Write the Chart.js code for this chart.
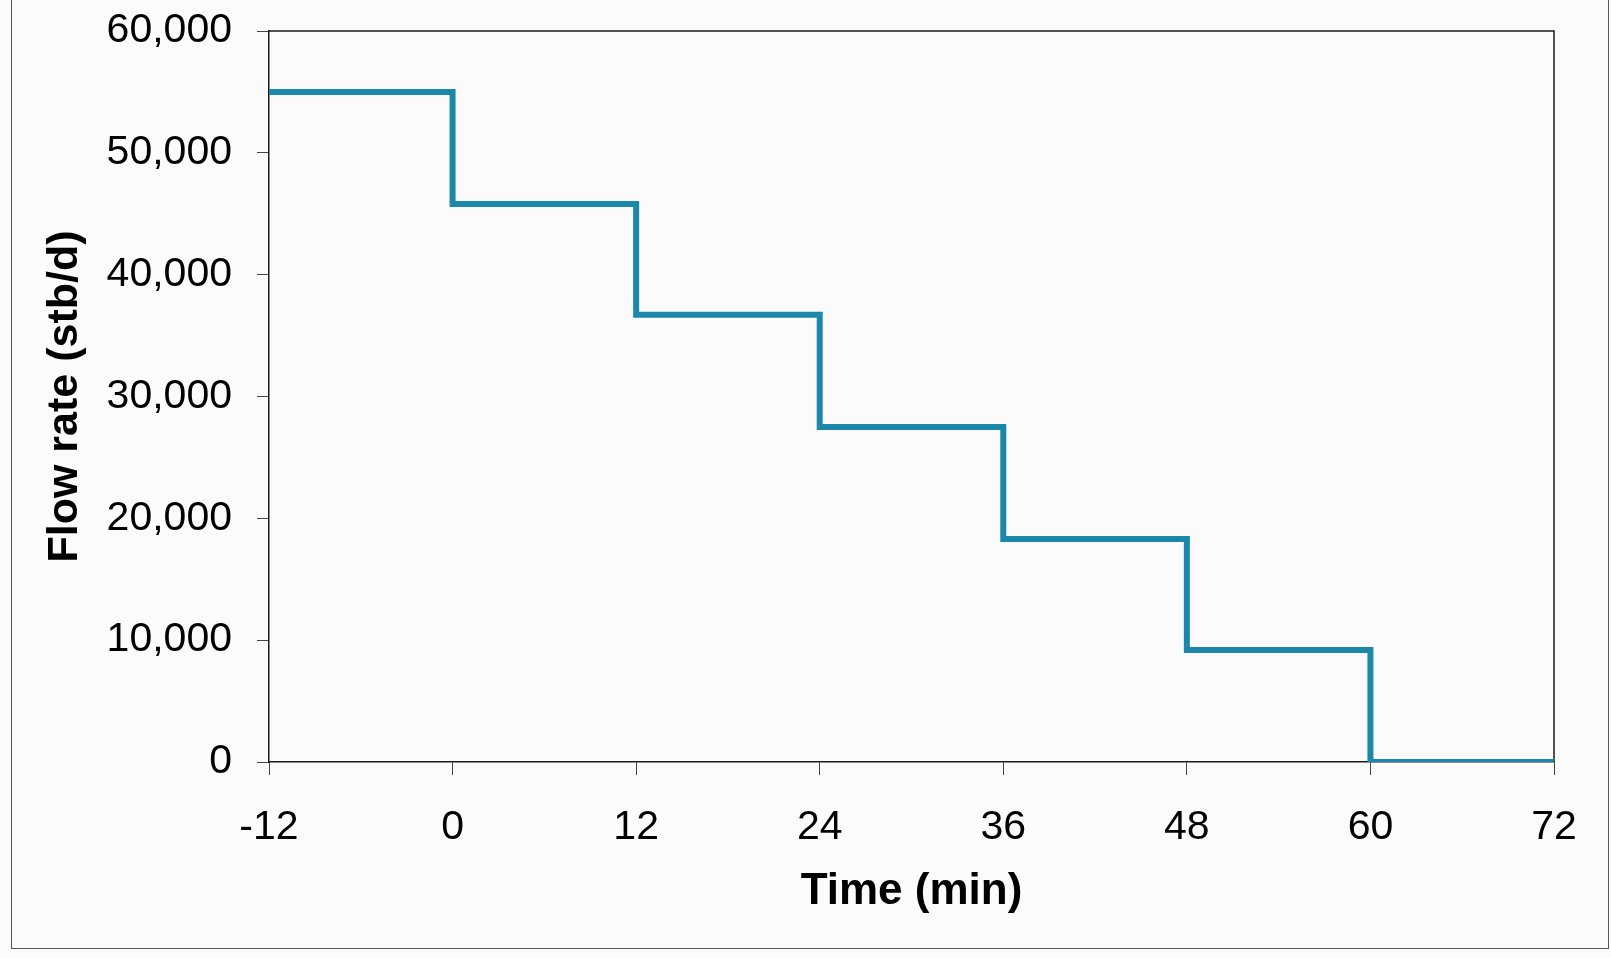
<!DOCTYPE html>
<html>
<head>
<meta charset="utf-8">
<script src="https://cdn.jsdelivr.net/npm/chart.js@4"></script>
<style>
  html, body { margin: 0; padding: 0; background: #fcfbfc; overflow: hidden; }
  #wrap { position: relative; width: 1611px; height: 958px; }
  #frame {
    position: absolute; left: 11px; top: -10px; width: 1598px; height: 959px;
    border: 1.5px solid #555; box-sizing: border-box; pointer-events: none;
  }
</style>
</head>
<body>
<div id="wrap">
  <div id="frame"></div>
  <canvas id="flowChart" width="1611" height="958"></canvas>
</div>
<script>
// time of each rate change (min) and the rate that holds from it (stb/d)
const times = [-12, 0, 12, 24, 36, 48, 60, 72];
const rates = [55000, 45800, 36700, 27500, 18300, 9200, 0, 0];

const xTicks = [-12, 0, 12, 24, 36, 48, 60, 72];
const yTicks = [0, 10000, 20000, 30000, 40000, 50000, 60000];

const lineColor = "#1b88aa";
const axisColor = "#1a1a1a";
const fontFamily = "Liberation Sans, Arial, sans-serif";

// plot box: top and right edges
const boxPlugin = {
    id: "box",
    beforeDatasetsDraw(chart) {
        const { ctx, chartArea: a } = chart;
        ctx.save();
        ctx.strokeStyle = axisColor;
        ctx.lineWidth = 1.5;
        ctx.beginPath();
        ctx.moveTo(a.left, a.top);
        ctx.lineTo(a.right, a.top);
        ctx.lineTo(a.right, a.bottom);
        ctx.stroke();
        ctx.restore();
    }
};

const ctx = document.getElementById("flowChart").getContext("2d");

new Chart(ctx, {
    type: "line",
    data: {
        datasets: [{
            data: times.map((t, i) => ({ x: t, y: rates[i] })),
            borderColor: lineColor,
            borderWidth: 6,
            stepped: "before",
            pointRadius: 0,
            fill: false,
            borderJoinStyle: "miter",
            borderCapStyle: "butt"
        }]
    },
    options: {
        responsive: false,
        animation: false,
        layout: { padding: { left: 0, right: 57, top: 31, bottom: 0 } },
        plugins: { legend: { display: false }, tooltip: { enabled: false } },
        scales: {
            x: {
                type: "linear",
                min: -12,
                max: 72,
                afterBuildTicks: s => { s.ticks = xTicks.map(v => ({ value: v })); },
                // fixed axis band so the plot area lands where the original's does
                afterFit: s => { s.height = 196; s.paddingLeft = 0; s.paddingRight = 0; },
                border: { display: true, color: axisColor, width: 1.5 },
                grid: { drawOnChartArea: false, drawTicks: true, tickLength: 13, tickColor: "#444", tickWidth: 1 },
                ticks: {
                    padding: 32,
                    color: "#000",
                    font: { family: fontFamily, size: 41, lineHeight: 1 }
                },
                title: {
                    display: true,
                    text: "Time (min)",
                    color: "#000",
                    padding: { top: 0, bottom: 44 },
                    font: { family: fontFamily, size: 44, weight: "bold", lineHeight: 1 }
                }
            },
            y: {
                min: 0,
                max: 60000,
                afterBuildTicks: s => { s.ticks = yTicks.map(v => ({ value: v })); },
                afterFit: s => { s.width = 269; s.paddingTop = 0; s.paddingBottom = 0; },
                border: { display: true, color: axisColor, width: 1.5 },
                grid: { drawOnChartArea: false, drawTicks: true, tickLength: 12, tickColor: "#444", tickWidth: 1 },
                ticks: {
                    padding: 25,
                    color: "#000",
                    callback: v => v.toLocaleString("en-US"),
                    font: { family: fontFamily, size: 41, lineHeight: 1 }
                },
                title: {
                    display: true,
                    text: "Flow rate (stb/d)",
                    color: "#000",
                    padding: { top: 44, bottom: 0 },
                    font: { family: fontFamily, size: 43, weight: "bold", lineHeight: 1 }
                }
            }
        }
    },
    plugins: [boxPlugin]
});
</script>
</body>
</html>
